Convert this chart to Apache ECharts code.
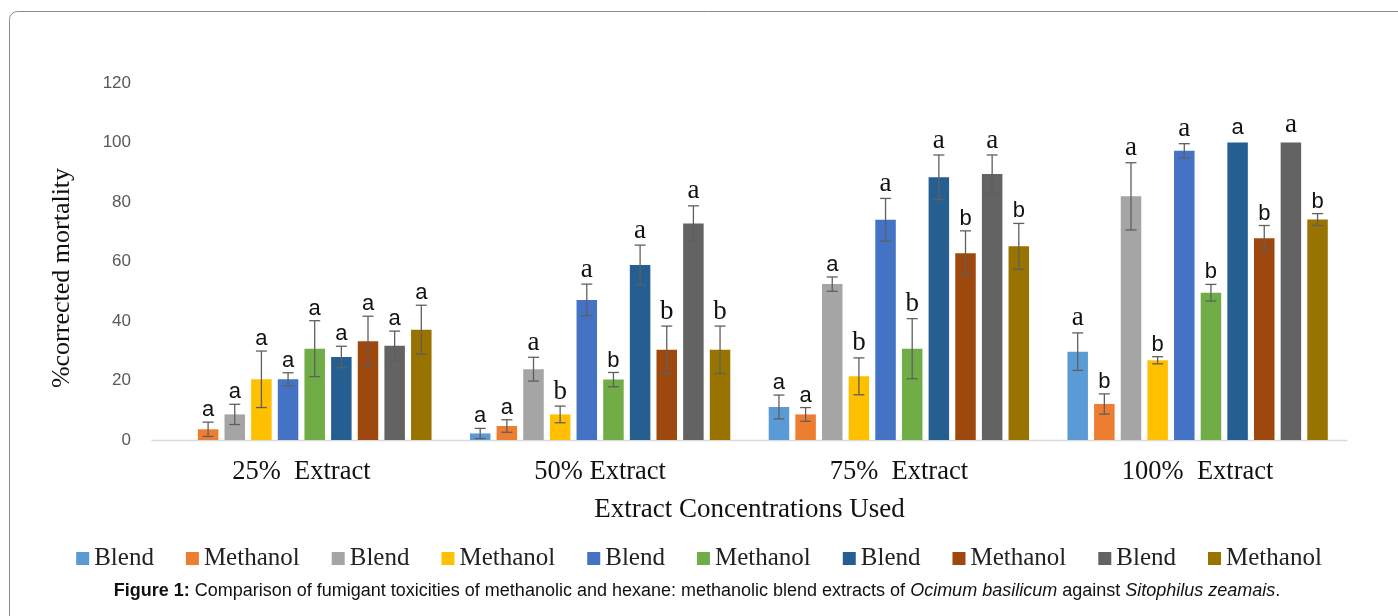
<!DOCTYPE html>
<html>
<head>
<meta charset="utf-8">
<script src="https://cdn.jsdelivr.net/npm/echarts@6/dist/echarts.min.js"></script>
<style>html,body{margin:0;padding:0;background:#fff}#c{width:1398px;height:616px}</style>
</head>
<body>
<div id="c"></div>
<script>
// ---------- data ----------
const categories = ['25%  Extract', '50% Extract', '75%  Extract', '100%  Extract'];
const seriesNames = ['Blend', 'Methanol', 'Blend', 'Methanol', 'Blend', 'Methanol', 'Blend', 'Methanol', 'Blend', 'Methanol'];
const blend1 = [0, 2.2, 11.1, 29.7];
const meth1 = [3.6, 4.7, 8.6, 12.1];
const blend2 = [8.6, 23.8, 52.4, 81.9];
const meth2 = [20.4, 8.6, 21.4, 26.8];
const blend3 = [20.4, 47.1, 74.0, 97.2];
const meth3 = [30.7, 20.3, 30.7, 49.5];
const blend4 = [27.9, 58.8, 88.3, 100];
const meth4 = [33.2, 30.3, 62.8, 67.8];
const blend5 = [31.7, 72.8, 89.4, 100];
const meth5 = [37.1, 30.3, 65.1, 74.1];

const errBlend1 = [0, 1.7, 4.0, 6.3];
const errMeth1 = [2.4, 2.1, 2.3, 3.4];
const errBlend2 = [3.4, 4.0, 2.4, 11.3];
const errMeth2 = [9.5, 2.8, 6.2, 1.2];
const errBlend3 = [2.2, 5.3, 7.2, 2.4];
const errMeth3 = [9.4, 2.4, 10.1, 2.8];
const errBlend4 = [3.6, 6.7, 7.5, 0];
const errMeth4 = [8.4, 8.0, 7.5, 4.3];
const errBlend5 = [4.9, 5.9, 6.4, 0];
const errMeth5 = [8.2, 8.0, 7.7, 2.0];

const letBlend1 = ['', 'a', 'a', 'a'];
const letMeth1 = ['a', 'a', 'a', 'b'];
const letBlend2 = ['a', 'a', 'a', 'a'];
const letMeth2 = ['a', 'b', 'b', 'b'];
const letBlend3 = ['a', 'a', 'a', 'a'];
const letMeth3 = ['a', 'b', 'b', 'b'];
const letBlend4 = ['a', 'a', 'a', 'a'];
const letMeth4 = ['a', 'b', 'b', 'b'];
const letBlend5 = ['a', 'a', 'a', 'a'];
const letMeth5 = ['a', 'b', 'b', 'b'];

const yTicks = [0, 20, 40, 60, 80, 100, 120];

// ---------- styling ----------
const values = [blend1, meth1, blend2, meth2, blend3, meth3, blend4, meth4, blend5, meth5];
const errors = [errBlend1, errMeth1, errBlend2, errMeth2, errBlend3, errMeth3, errBlend4, errMeth4, errBlend5, errMeth5];
const letters = [letBlend1, letMeth1, letBlend2, letMeth2, letBlend3, letMeth3, letBlend4, letMeth4, letBlend5, letMeth5];
const colors = ['#5B9BD5', '#ED7D31', '#A5A5A5', '#FFC000', '#4472C4', '#70AD47', '#255E91', '#9E480E', '#636363', '#997300'];
// letter typeface per category (s = sans, r = serif), per series index
const letterFace = [
  'ssssssssss',
  'ssrrrsrrrr',
  'sssrrrrsrs',
  'rsrsrsssrs'
];
const BAR_W = 20.5, GAP = 0.30;
const SPACING = BAR_W * (1 + GAP);
const N = values.length;

const chart = echarts.init(document.getElementById('c'));

const barSeries = values.map((vals, si) => ({
  name: seriesNames[si] + '#' + si,
  type: 'bar',
  data: vals,
  barWidth: BAR_W,
  barGap: (GAP * 100) + '%',
  itemStyle: { color: colors[si] },
  emphasis: { disabled: true },
  animation: false
}));

const errSeries = values.map((vals, si) => ({
  type: 'custom',
  name: 'err' + si,
  z: 5,
  animation: false,
  renderItem: function (params, api) {
    const ci = api.value(0);
    const v = api.value(1);
    const e = api.value(2);
    const letter = letters[si][ci];
    if (!letter) return null;
    const base = api.coord([ci, v]);
    const x = base[0] + (si - (N - 1) / 2) * SPACING;
    const top = api.coord([ci, v + e])[1];
    const bot = api.coord([ci, v - e])[1];
    const children = [];
    const lineStyle = { stroke: '#5f5f5f', lineWidth: 1.3 };
    if (e > 0) {
      children.push({ type: 'line', shape: { x1: x, y1: top, x2: x, y2: bot }, style: lineStyle });
      children.push({ type: 'line', shape: { x1: x - 5.5, y1: top, x2: x + 5.5, y2: top }, style: lineStyle });
      children.push({ type: 'line', shape: { x1: x - 5.5, y1: bot, x2: x + 5.5, y2: bot }, style: lineStyle });
    }
    const serif = letterFace[ci][si] === 'r';
    children.push({
      type: 'text',
      style: {
        text: letter,
        x: x,
        y: top - (e > 0 ? 1 : 4),
        align: 'center',
        verticalAlign: 'bottom',
        fill: '#111',
        font: serif ? '27px "Liberation Serif"' : '22px "Liberation Sans"'
      }
    });
    return { type: 'group', children: children };
  },
  data: vals.map((v, ci) => [ci, v, errors[si][ci]])
}));

const option = {
  backgroundColor: '#fff',
  animation: false,
  grid: { left: 152, right: 51, top: 83, bottom: 176, containLabel: false },
  legend: {
    data: barSeries.map(s => s.name),
    formatter: name => name.split('#')[0],
    left: 'center',
    top: 541,
    itemWidth: 13,
    itemHeight: 13,
    itemGap: 32,
    icon: 'rect',
    selectedMode: false,
    textStyle: { fontFamily: 'Liberation Serif', fontSize: 25, color: '#222' }
  },
  xAxis: {
    type: 'category',
    data: categories,
    axisLine: { lineStyle: { color: '#d9d9d9', width: 1.3 } },
    axisTick: { show: false },
    axisLabel: { margin: 19, fontFamily: 'Liberation Serif', fontSize: 26.5, color: '#111', interval: 0 },
    name: 'Extract Concentrations Used',
    nameLocation: 'middle',
    nameGap: 56,
    nameTextStyle: { fontFamily: 'Liberation Serif', fontSize: 27, color: '#111' }
  },
  yAxis: {
    type: 'value',
    min: 0,
    max: 120,
    interval: 20,
    axisLine: { show: false },
    axisTick: { show: false },
    splitLine: { show: false },
    axisLabel: {
      margin: 21,
      fontFamily: 'Liberation Sans',
      fontSize: 17,
      color: '#595959',
      formatter: v => (yTicks.indexOf(v) >= 0 ? String(v) : '')
    }
  },
  graphic: [
    {
      type: 'rect',
      shape: { x: 9.5, y: 11.5, width: 1420, height: 640, r: 8 },
      style: { fill: 'none', stroke: '#8c8c8c', lineWidth: 1 },
      silent: true
    },
    {
      type: 'text',
      x: 62,
      y: 278,
      rotation: Math.PI / 2,
      style: {
        text: '%corrected mortality',
        align: 'center',
        verticalAlign: 'middle',
        font: '26px "Liberation Serif"',
        fill: '#111'
      }
    },
    {
      type: 'text',
      x: 697,
      y: 591,
      style: {
        text: '{b|Figure 1:} Comparison of fumigant toxicities of methanolic and hexane: methanolic blend extracts of {i|Ocimum basilicum} against {i|Sitophilus zeamais}.',
        align: 'center',
        verticalAlign: 'middle',
        fontFamily: 'Liberation Sans',
        fontSize: 18,
        fill: '#111',
        rich: {
          b: { fontFamily: 'Liberation Sans', fontSize: 18, fontWeight: 'bold', fill: '#111' },
          i: { fontFamily: 'Liberation Sans', fontSize: 18, fontStyle: 'italic', fill: '#111' }
        }
      }
    }
  ],
  series: barSeries.concat(errSeries)
};

chart.setOption(option);
</script>
</body>
</html>
